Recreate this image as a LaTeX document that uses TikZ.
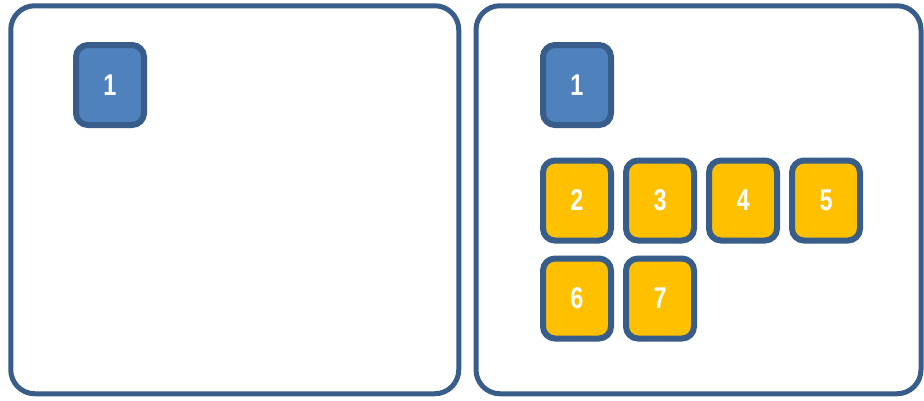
\documentclass[tikz,border=0pt]{standalone}
\usepackage{fontspec}
\newfontfamily\tilefont[FakeStretch=0.78]{Liberation Sans}
\usepackage{xcolor}
\definecolor{frame}{HTML}{385D8A}
\definecolor{tileblue}{HTML}{4F81BD}
\definecolor{tileyellow}{HTML}{FFC000}
\usetikzlibrary{positioning}

\begin{document}
\begin{tikzpicture}[x=1pt, y=-1pt, node distance=9pt,
  panel/.style={draw=frame, fill=white, line width=5pt, rounded corners=24pt,
                minimum width=448pt, minimum height=388pt},
  tile/.style={draw=frame, line width=6pt, rounded corners=12pt,
               minimum width=68pt, minimum height=80pt, inner sep=0pt,
               font=\tilefont\bfseries\fontsize{30}{30}\selectfont, text=white},
  bluetile/.style={tile, fill=tileblue},
  yellowtile/.style={tile, fill=tileyellow}]

  \useasboundingbox (0,0) rectangle (924,400);

  % panels
  \node[panel] (left) at (234.75,199.75) {};
  \node[panel, minimum width=445pt] (right) at (698.5,199.75) {};

  % left panel
  \node[bluetile] (l1) at (110,85) {1};

  % right panel
  \node[bluetile] (r1) at (577,85) {1};
  \node[yellowtile, below=29.5pt of r1] (r2) {2};
  \node[yellowtile, right=of r2] (r3) {3};
  \node[yellowtile, right=of r3] (r4) {4};
  \node[yellowtile, right=of r4] (r5) {5};
  \node[yellowtile, below=12pt of r2] (r6) {6};
  \node[yellowtile, right=of r6] (r7) {7};

\end{tikzpicture}
\end{document}
